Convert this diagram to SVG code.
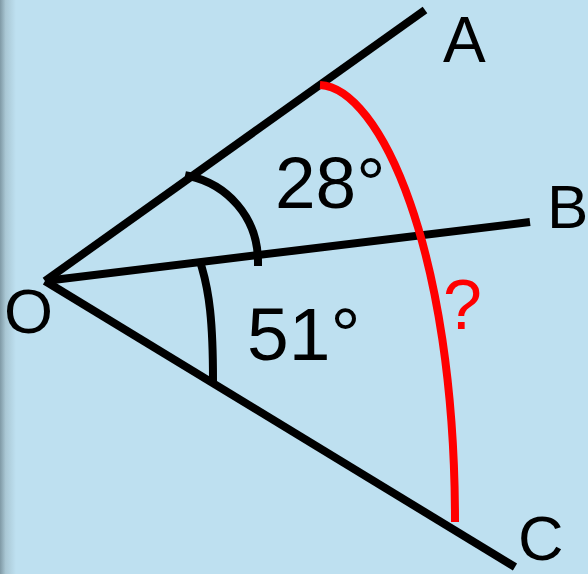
<svg xmlns="http://www.w3.org/2000/svg" width="588" height="574" viewBox="0 0 588 574">
  <defs>
    <linearGradient id="edge" x1="0" y1="0" x2="16" y2="0" gradientUnits="userSpaceOnUse">
      <stop offset="0" stop-color="#7f99a5"/>
      <stop offset="0.35" stop-color="#a9c7d4"/>
      <stop offset="1" stop-color="#bee0f0"/>
    </linearGradient>
    <style>
      .ray { stroke: #000; stroke-width: 8; fill: none; stroke-linecap: butt; }
      .arc { stroke: #000; stroke-width: 8; fill: none; stroke-linecap: square; }
      .red { stroke: #ff0000; stroke-width: 8; fill: none; stroke-linecap: butt; }
      .lbl { font-family: "Liberation Sans", Arial, sans-serif; fill: #000; }
    </style>
  </defs>
  <rect x="0" y="0" width="588" height="574" fill="#bee0f0"/>
  <rect x="0" y="0" width="16" height="574" fill="url(#edge)"/>

  <g id="connectors">
    <line class="ray" x1="45" y1="281" x2="425" y2="10"/>
    <line class="ray" x1="45" y1="281" x2="530" y2="222"/>
    <line class="ray" x1="45" y1="281" x2="515" y2="567"/>
    <path class="arc" d="M189,176 C226,184 258,216 258,262"/>
    <path class="arc" d="M202,268 C209,292 213,320 213,381"/>
    <path class="red" d="M320,85 C380,88 455,250 455,522"/>
  </g>

  <g id="O"><text class="lbl" x="4" y="333" font-size="63">O</text></g>
  <g id="A"><text class="lbl" x="443" y="62" font-size="64">A</text></g>
  <g id="B"><text class="lbl" x="547" y="228" font-size="62">B</text></g>
  <g id="C"><text class="lbl" x="518" y="560" font-size="63">C</text></g>
  <g id="angle28"><text class="lbl" x="275" y="208" font-size="73">28°</text></g>
  <g id="angle51"><text class="lbl" x="247" y="360" font-size="75">51°</text></g>
  <g id="unknown"><text class="lbl" x="443" y="329" font-size="70" style="fill:#ff0000">?</text></g>
</svg>
